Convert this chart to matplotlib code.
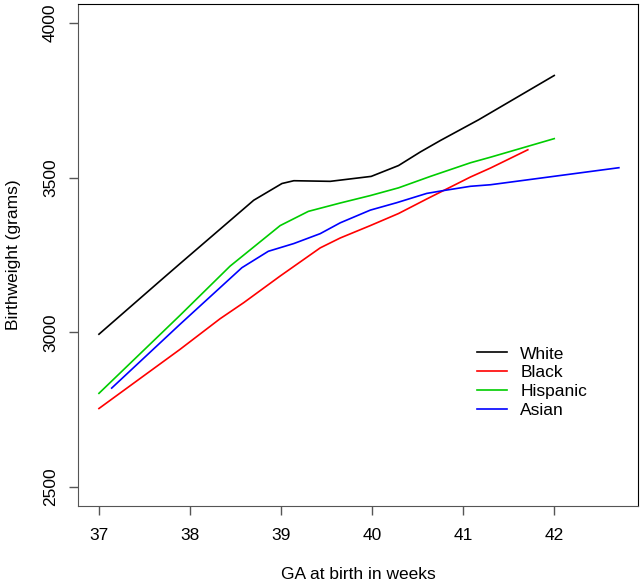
import matplotlib
matplotlib.use("Agg")
import matplotlib.pyplot as plt

plt.rcParams['font.family'] = ['Liberation Sans', 'DejaVu Sans']

# smoothed birthweight curves
white_x = [37.0, 37.69, 37.89, 38.70, 39.01, 39.14, 39.54, 39.99, 40.29, 40.53, 40.75, 41.17, 42.0]
white_y = [2994, 3171, 3222, 3427, 3481, 3490, 3488, 3504, 3539, 3583, 3620, 3687, 3830]

black_x = [37.0, 37.89, 38.33, 38.59, 38.99, 39.43, 39.65, 39.98, 40.29, 40.60, 41.08, 41.30, 41.71]
black_y = [2754, 2945, 3044, 3096, 3182, 3273, 3305, 3345, 3384, 3431, 3502, 3531, 3590]

hisp_x = [37.0, 37.89, 38.44, 38.99, 39.30, 39.65, 39.98, 40.29, 40.64, 41.08, 41.30, 42.0]
hisp_y = [2803, 3055, 3214, 3345, 3391, 3418, 3442, 3467, 3504, 3548, 3566, 3626]

asian_x = [37.14, 37.89, 38.57, 38.86, 39.14, 39.43, 39.65, 39.98, 40.27, 40.60, 40.78, 41.08, 41.30, 42.71]
asian_y = [2820, 3026, 3209, 3262, 3287, 3319, 3354, 3395, 3419, 3449, 3458, 3472, 3477, 3532]

labels = ["White", "Black", "Hispanic", "Asian"]
colors = ["black", "#FF0000", "#00CD00", "#0000FF"]

x_ticks = [37, 38, 39, 40, 41, 42]
y_ticks = [2500, 3000, 3500, 4000]

fig = plt.figure(figsize=(6.43, 5.84), dpi=100)
ax = fig.add_axes([78 / 643, 78 / 584, 560 / 643, 502 / 584])

series = [(white_x, white_y), (black_x, black_y), (hisp_x, hisp_y), (asian_x, asian_y)]
for (xs, ys), lab, col in zip(series, labels, colors):
    ax.plot(xs, ys, color=col, lw=1.2, label=lab)

ax.set_xlim(36.77, 42.92)
ax.set_ylim(2439, 4061)
ax.set_xticks(x_ticks)
ax.set_yticks(y_ticks)
ax.tick_params(axis='x', length=6.5, width=1, color='#555555', labelsize=12.5, pad=9.5)
ax.tick_params(axis='y', length=6.5, width=1, color='#555555', labelsize=12.5, pad=8)
for t in ax.get_yticklabels():
    t.set_rotation(90)
    t.set_va('center')

# left / bottom look a bit lighter than the box
ax.spines['left'].set_color('#555555')
ax.spines['bottom'].set_color('#555555')
for pos in ['top', 'right']:
    ax.spines[pos].set_color('black')

ax.set_xlabel("GA at birth in weeks", fontsize=12.5, labelpad=17)
ax.set_ylabel("Birthweight (grams)", fontsize=12.5, labelpad=16)

ax.legend(loc='upper left', bbox_to_anchor=(0.7125, 0.318), frameon=False,
          fontsize=12.5, handlelength=1.7, handletextpad=0.8, labelspacing=0.22,
          borderpad=0, borderaxespad=0)

plt.savefig("out.png", dpi=100)
